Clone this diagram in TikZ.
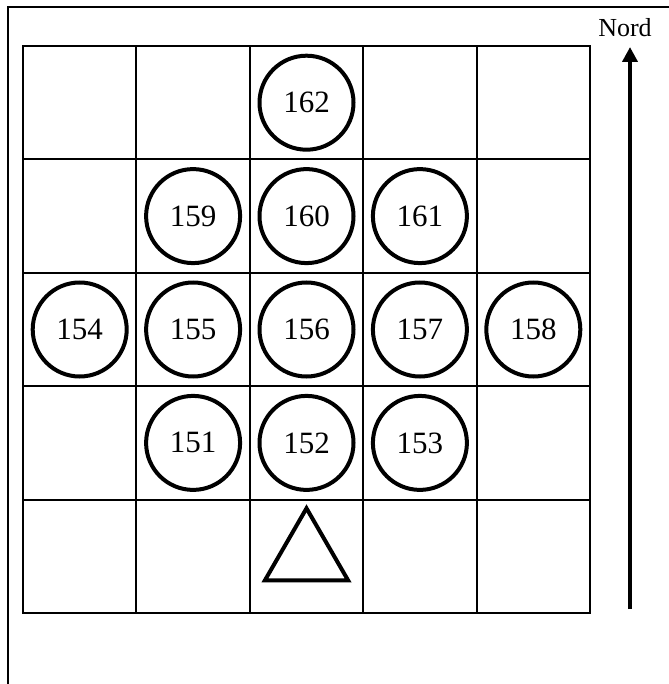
\documentclass[tikz,border=0pt]{standalone}
\usepackage{fontspec}
\setmainfont{Liberation Serif}
\usetikzlibrary{arrows.meta,shapes.geometric}
\tikzset{
case/.style={draw, line width=2pt, minimum size=113.4pt, inner sep=0pt},
pierre/.style={circle, draw, line width=4pt, minimum size=94pt, inner sep=0pt,
  font=\fontsize{31}{37}\selectfont},
pion/.style={regular polygon, regular polygon sides=3, draw, line width=4pt,
  minimum size=96pt, inner sep=0pt}
}
\begin{document}
\begin{tikzpicture}[x=1pt,y=-1pt]
\useasboundingbox (0,0) rectangle (668,684);
% cadre
\draw[line width=2.5pt] (8,690) -- (8,7) -- (675,7);
% damier
\foreach \i in {0,...,4}
	\foreach \j in {0,...,4}
		\node[case] (c\i\j) at (79.7+113.4*\i, 102.7+113.4*\j) {};
% pierres
\node[pierre] (p162) at (c20) {162};
\node[pierre] (p159) at (c11) {159};
\node[pierre] (p160) at (c21) {160};
\node[pierre] (p161) at (c31) {161};
\node[pierre] (p154) at (c02) {154};
\node[pierre] (p155) at (c12) {155};
\node[pierre] (p156) at (c22) {156};
\node[pierre] (p157) at (c32) {157};
\node[pierre] (p158) at (c42) {158};
\node[pierre] (p151) at (c13) {151};
\node[pierre] (p152) at (c23) {152};
\node[pierre] (p153) at (c33) {153};
\node[pion] (depart) at (c24) {};
% nord
\node[anchor=base, font=\fontsize{26}{31}\selectfont] (nord) at (625,37) {Nord};
\coordinate (sud) at (630,609);
\coordinate (pointe) at (630,47);
\draw[line width=4pt, -{Triangle[length=15pt,width=15pt]}] (sud) -- (pointe);
\end{tikzpicture}
\end{document}
